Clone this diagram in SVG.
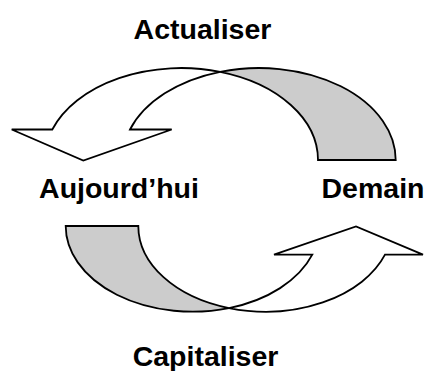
<svg xmlns="http://www.w3.org/2000/svg" width="429" height="371" viewBox="0 0 429 371">
  <style>
    .lbl { font-family: "Liberation Sans", Arial, sans-serif; font-weight: bold; font-size: 28.5px; fill: #000; text-anchor: middle; }
    .back { fill: #cccccc; stroke: #000; stroke-width: 1.8; stroke-linejoin: miter; }
    .front { fill: #ffffff; stroke: #000; stroke-width: 1.8; stroke-linejoin: miter; }
  </style>
  <rect width="429" height="371" fill="#ffffff"/>
  <g id="connectors">
    <g id="arrow-actualiser">
      <path class="back" d="M 220.15,71.8 A 136.7 92 0 0 1 395.7,160 L 318,160 A 136.7 92 0 0 0 220.15,71.8 Z"/>
      <path class="front" d="M 52.3,129.5 A 136.7 92 0 0 1 220.15,71.8 A 136.7 92 0 0 0 130,129.5 L 171.7,129.5 L 83.3,160.5 L 11.7,129.5 Z"/>
      <text class="lbl" x="202.5" y="39">Actualiser</text>
    </g>
    <g id="arrow-capitaliser">
      <path class="back" d="M 65.7,226 L 138.3,226 A 127 85.7 0 0 0 229,308.1 A 127 85.7 0 0 1 65.7,226 Z"/>
      <path class="front" d="M 229,308.1 A 127 85.7 0 0 0 312.3,254.7 L 274,254.7 L 356,226.5 L 423,254.7 L 385,254.7 A 127 85.7 0 0 1 229,308.1 Z"/>
      <text class="lbl" x="205.5" y="366">Capitaliser</text>
    </g>
  </g>
  <g id="node-aujourdhui">
    <text class="lbl" x="119" y="198">Aujourd’hui</text>
  </g>
  <g id="node-demain">
    <text class="lbl" x="373" y="198">Demain</text>
  </g>
</svg>
